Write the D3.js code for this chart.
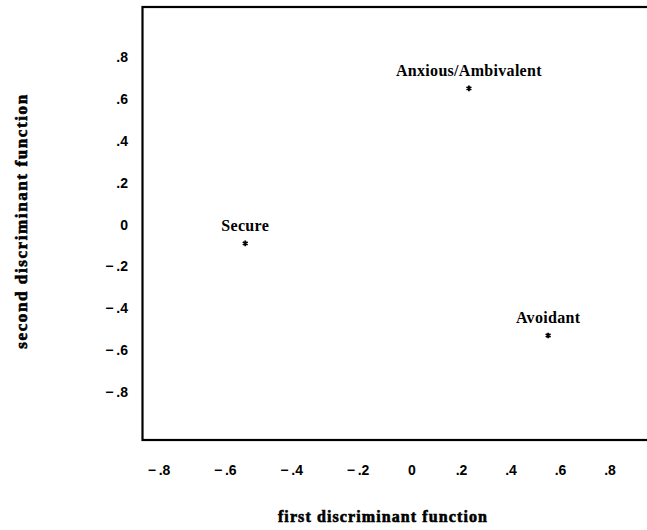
<!DOCTYPE html>
<html>
<head>
<meta charset="utf-8">
<script src="https://cdn.jsdelivr.net/npm/d3@7"></script>
<style>
  body { margin: 0; background: #fff; }
  svg { display: block; }
</style>
</head>
<body>
<div id="chart"></div>
<script>
// group centroids on the two discriminant functions
const groups = ['Secure', 'Anxious/Ambivalent', 'Avoidant'];
const firstFn = [-0.54, 0.23, 0.55];
const secondFn = [-0.09, 0.65, -0.53];

const xTicks = [-0.8, -0.6, -0.4, -0.2, 0, 0.2, 0.4, 0.6, 0.8];
const yTicks = [0.8, 0.6, 0.4, 0.2, 0, -0.2, -0.4, -0.6, -0.8];

const width = 647;
const height = 530;

const svg = d3.select('#chart')
              .append('svg')
              .attr('width', width)
              .attr('height', height);

// the printed axis is not evenly spaced, so the scale is piecewise
const x = d3.scaleLinear()
            .domain([-0.8, -0.2, 0, 0.8])
            .range([159, 358, 412, 610]);

const y = d3.scaleLinear()
            .domain([-0.8, 0.8])
            .range([392, 57]);

const box = { left: 142.5, top: 7, right: 652, bottom: 440 };

svg.append('rect')
   .attr('x', box.left)
   .attr('y', box.top)
   .attr('width', box.right - box.left)
   .attr('height', box.bottom - box.top)
   .attr('fill', 'none')
   .attr('stroke', '#000')
   .attr('stroke-width', 2.2);

const fmt = v => {
  if (v === 0) return '0';
  const s = d3.format('.1f')(Math.abs(v)).replace(/^0/, '');
  return v < 0 ? '\u2212\u2009' + s : s;
};

svg.append('g')
   .selectAll('text')
   .data(xTicks)
   .enter()
   .append('text')
   .text(fmt)
   .attr('x', d => x(d))
   .attr('y', 475)
   .attr('text-anchor', 'middle')
   .attr('font-family', 'Liberation Sans, Arial, sans-serif')
   .attr('font-weight', 'bold')
   .attr('font-size', 14);

svg.append('g')
   .selectAll('text')
   .data(yTicks)
   .enter()
   .append('text')
   .text(fmt)
   .attr('x', 128)
   .attr('y', d => y(d) + 5)
   .attr('text-anchor', 'end')
   .attr('font-family', 'Liberation Sans, Arial, sans-serif')
   .attr('font-weight', 'bold')
   .attr('font-size', 14);

const points = groups.map((g, i) => ({ name: g, fx: firstFn[i], sx: secondFn[i] }));

svg.append('g')
   .selectAll('path')
   .data(points)
   .enter()
   .append('path')
   .attr('d', d3.symbol(d3.symbolAsterisk, 22))
   .attr('transform', d => `translate(${x(d.fx)},${y(d.sx)})`)
   .attr('fill', 'none')
   .attr('stroke', '#000')
   .attr('stroke-width', 1.8);

svg.append('g')
   .selectAll('text')
   .data(points)
   .enter()
   .append('text')
   .text(d => d.name)
   .attr('x', d => x(d.fx))
   .attr('y', d => y(d.sx) - 12)
   .attr('text-anchor', 'middle')
   .attr('font-family', 'Liberation Serif, Times New Roman, serif')
   .attr('font-weight', 'bold')
   .attr('font-size', 16)
   .attr('letter-spacing', 0.3);

svg.append('text')
   .text('first discriminant function')
   .attr('x', 383)
   .attr('y', 522)
   .attr('text-anchor', 'middle')
   .attr('font-family', 'Liberation Serif, Times New Roman, serif')
   .attr('font-weight', 'bold')
   .attr('font-size', 16)
   .attr('stroke', '#000')
   .attr('stroke-width', 0.6)
   .attr('letter-spacing', 1.1);

svg.append('text')
   .text('second discriminant function')
   .attr('transform', 'translate(27,221) rotate(-90)')
   .attr('text-anchor', 'middle')
   .attr('font-family', 'Liberation Serif, Times New Roman, serif')
   .attr('font-weight', 'bold')
   .attr('font-size', 17)
   .attr('stroke', '#000')
   .attr('stroke-width', 0.6)
   .attr('letter-spacing', 1.6);
</script>
</body>
</html>
